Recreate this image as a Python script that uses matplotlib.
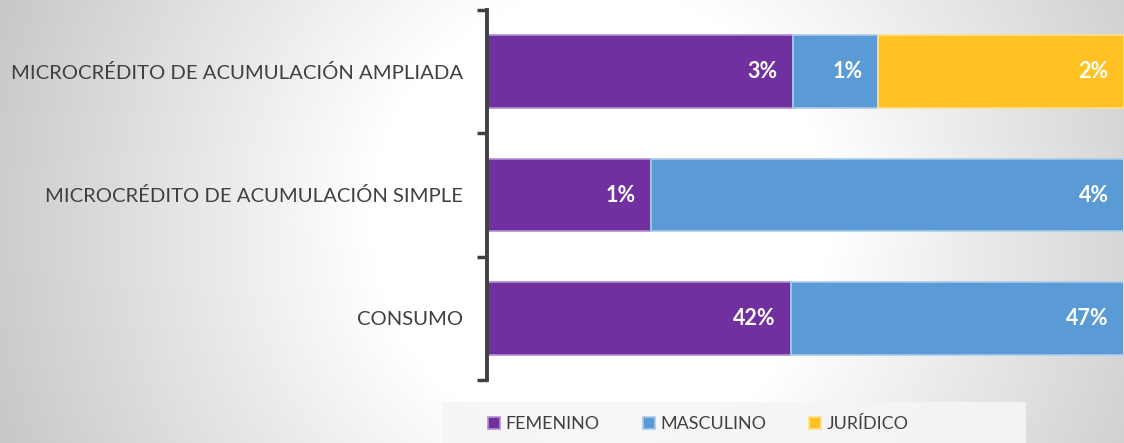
import numpy as np
import matplotlib
matplotlib.use("Agg")
import matplotlib.pyplot as plt
from matplotlib.patches import Rectangle

# categories from top to bottom
categories = ["MICROCRÉDITO DE ACUMULACIÓN AMPLIADA",
              "MICROCRÉDITO DE ACUMULACIÓN SIMPLE",
              "CONSUMO"]
series = ["FEMENINO", "MASCULINO", "JURÍDICO"]
# share of total portfolio (%)
femenino = [2.6, 1.4, 42.45]
masculino = [0.72, 4.04, 46.55]
juridico = [2.09, 0.0, 0.0]

colors = ["#7030A0", "#5B9BD5", "#FFC222"]
edges = ["#B28FD0", "#A9CBEA", "#FFE08A"]
txt = "#404040"

plt.rcParams['font.family'] = ['Lato', 'DejaVu Sans']

W, H = 1124, 443
fig = plt.figure(figsize=(W / 100, H / 100), dpi=100)

# radial grey->white background
bg = fig.add_axes([0, 0, 1, 1], zorder=-5)
yy, xx = np.mgrid[0:H, 0:W]
d = np.hypot(xx - 600, (yy - 220) * 1.0)
t = np.clip((d - 230) / 420, 0, 1)
g = 1.0 - t * (1 - 0xC6 / 255)
bg.imshow(np.dstack([g, g, g]), aspect='auto', extent=[0, 1, 0, 1], origin='upper')
bg.axis('off')

ax = fig.add_axes([487 / W, 1 - 380 / H, 1 - 487 / W, 370 / H])
ax.patch.set_alpha(0)

data = np.array([femenino, masculino, juridico])
totals = data.sum(axis=0)
shares = data / totals * 100
y = np.arange(len(categories))
left = np.zeros(len(categories))
for i, name in enumerate(series):
    bars = ax.barh(y, shares[i], left=left, height=0.59, color=colors[i],
                   edgecolor=edges[i], linewidth=1.2, label=name)
    for j, b in enumerate(bars):
        if data[i, j] > 0:
            ax.text(left[j] + shares[i, j] - 2.4, y[j], f"{data[i, j]:.0f}%",
                    ha='right', va='center', color='white', fontsize=15.5,
                    fontweight='bold')
    left += shares[i]

ax.set_xlim(0, 100)
ax.set_ylim(2.5, -0.5)
ax.set_xticks([])
ax.set_yticks([-0.5, 0.5, 1.5, 2.5])
ax.set_yticklabels([])
ax.tick_params(axis='y', which='major', length=7, width=2.5, color="#404040", direction='out')
ax.set_yticks(y, minor=True)
ax.set_yticklabels(categories, minor=True, fontsize=14.6, color=txt)
ax.tick_params(axis='y', which='minor', length=0, pad=17)
for s in ['top', 'right', 'bottom']:
    ax.spines[s].set_visible(False)
ax.spines['left'].set_color("#404040")
ax.spines['left'].set_linewidth(2.8)

# legend box
fig.patches.append(Rectangle((442 / W, 0), 584 / W, 41 / H, transform=fig.transFigure,
                             facecolor="#F5F5F5", edgecolor='none', alpha=0.9, zorder=-1))
handles, labels = ax.get_legend_handles_labels()
leg = fig.legend(handles, labels, ncol=3, loc='center left',
                 bbox_to_anchor=(488 / W, 19 / H), frameon=False,
                 fontsize=12.9, labelcolor=txt,
                 handlelength=0.68, handleheight=0.68, handletextpad=0.3,
                 columnspacing=2.4, borderaxespad=0, borderpad=0)

fig.savefig("out.png", dpi=100)
